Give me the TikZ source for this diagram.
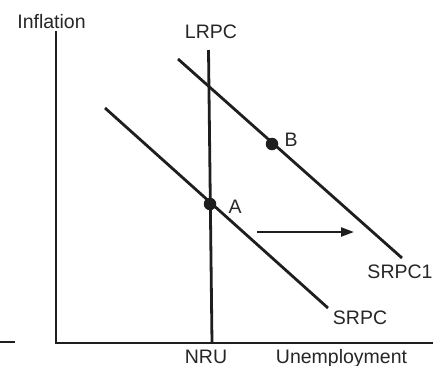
\documentclass[tikz,border=0pt]{standalone}
\usepackage{fontspec}
\setmainfont{Liberation Sans}
\usetikzlibrary{arrows.meta}
\definecolor{ink}{HTML}{1E1E1E}
\definecolor{txt}{HTML}{262626}
\begin{document}
\begin{tikzpicture}[x=1bp,y=-1bp,
  curve/.style={line width=2.8bp, draw=ink},
  lbl/.style={text=txt, inner sep=0pt, anchor=base, font=\fontsize{19.5bp}{22bp}\selectfont},
  pt/.style={circle, fill=ink, minimum size=12.5bp, inner sep=0pt},
  shiftarrow/.style={line width=2.2bp, draw=ink, -{Triangle[length=13bp,width=9bp]}}]
\useasboundingbox (0,0) rectangle (438,365);
% axes
\coordinate (ytop) at (56,31);
\coordinate (origin) at (56,343);
\coordinate (xend) at (433,343);
\coordinate (stubL) at (0,342);
\coordinate (stubR) at (15,342);
\draw[curve, line join=miter] (ytop) -- (origin) -- (xend);
\draw[curve] (stubL) -- (stubR);
% LRPC
\coordinate (lrpcT) at (208.5,50);
\coordinate (lrpcB) at (212,343);
\draw[curve] (lrpcT) -- (lrpcB);
% SRPC
\coordinate (s0a) at (105,108);
\coordinate (s0b) at (328,308);
\draw[curve] (s0a) -- (s0b);
% SRPC1
\coordinate (s1a) at (178,59);
\coordinate (s1b) at (402,258);
\draw[curve] (s1a) -- (s1b);
% points
\node[pt] (A) at (210,204) {};
\node[pt] (B) at (272,144) {};
% arrow
\coordinate (arrS) at (257,232);
\coordinate (arrE) at (354,232);
\draw[shiftarrow] (arrS) -- (arrE);
% labels
\node[lbl] (inflation) at (51.5,28) {Inflation};
\node[lbl] (lrpc) at (211,38) {LRPC};
\node[lbl] (labA) at (235,213) {A};
\node[lbl] (labB) at (291,146) {B};
\node[lbl] (srpc1) at (400,278) {SRPC1};
\node[lbl] (srpc) at (360,324) {SRPC};
\node[lbl] (nru) at (206,363.5) {NRU};
\node[lbl] (unemp) at (341.5,363.5) {Unemployment};
\end{tikzpicture}
\end{document}
